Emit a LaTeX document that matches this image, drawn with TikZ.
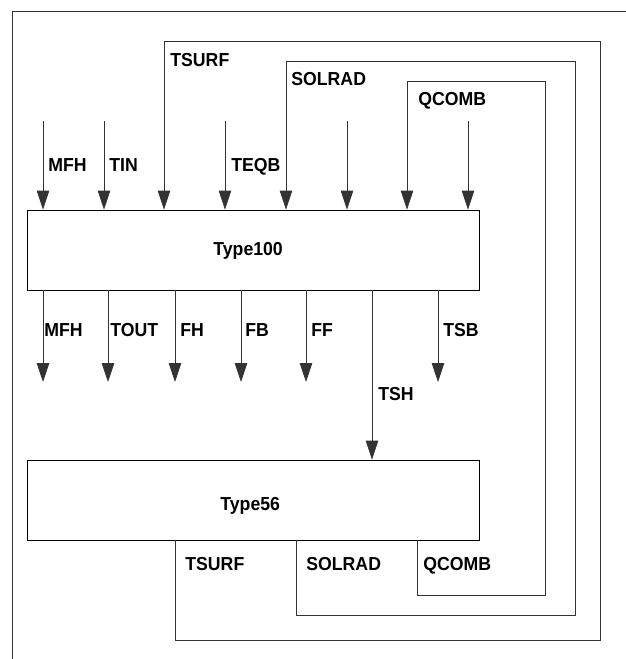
\documentclass[tikz,border=0pt]{standalone}
\usepackage{fontspec}
\setmainfont{Liberation Sans}[FakeStretch=0.94]
\usetikzlibrary{arrows.meta}
\begin{document}
\begin{tikzpicture}[x=1pt,y=-1pt,line width=0.8pt,
  wire/.style={draw=black!80},
  arr/.style={wire,-{Triangle[length=19pt,width=12.5pt]}},
  block/.style={draw=black,rectangle,minimum width=452pt,minimum height=80pt,inner sep=0pt},
  lab/.style={anchor=base west,inner sep=0pt,font=\bfseries\fontsize{18.8}{18.8}\selectfont}]
\useasboundingbox (0,0) rectangle (626,659);
% outer frame
\coordinate (fbl) at (12,659);
\coordinate (ftl) at (12,11);
\coordinate (ftr) at (626,11);
\draw[wire] (fbl) -- (ftl) -- (ftr);
% blocks
\node[block] (t100) at (253,250) {};
\node[block] (t56) at (253,500) {};
\node[lab] (t100lab) at (213,255.5) {Type100};
\node[lab] (t56lab) at (220,510.5) {Type56};
% plain inputs
\foreach \x/\n in {43/a,104/b,225/d,347/f,468/h} {
  \coordinate (in\n) at (\x,121);
  \draw[arr] (in\n) -- (in\n |- t100.north);
}
% outputs
\foreach \x/\n in {43/a,108/b,175/c,241/d,306/e,438/f} {
  \coordinate (out\n) at (\x,382);
  \draw[arr] (out\n |- t100.south) -- (out\n);
}
\coordinate (tsh) at (372,0);
\draw[arr] (tsh |- t100.south) -- (tsh |- t56.north);
% feedback loops
\coordinate (tsA) at (175,0);
\coordinate (tsB) at (600,640);
\coordinate (tsC) at (164,41);
\draw[arr] (tsA |- t56.south) |- (tsB) |- (tsC) -- (tsC |- t100.north);
\coordinate (soA) at (296,0);
\coordinate (soB) at (575,615);
\coordinate (soC) at (286,61);
\draw[arr] (soA |- t56.south) |- (soB) |- (soC) -- (soC |- t100.north);
\coordinate (qcA) at (417,0);
\coordinate (qcB) at (545,595);
\coordinate (qcC) at (407,81);
\draw[arr] (qcA |- t56.south) |- (qcB) |- (qcC) -- (qcC |- t100.north);
% labels
\node[lab] (l1) at (170,66.5) {TSURF};
\node[lab] (l2) at (291,85.5) {SOLRAD};
\node[lab] (l3) at (418,105.5) {QCOMB};
\node[lab] (l4) at (48,171.5) {MFH};
\node[lab] (l5) at (109,171.5) {TIN};
\node[lab] (l6) at (231,171.5) {TEQB};
\node[lab] (l7) at (44,336) {MFH};
\node[lab] (l8) at (110,336) {TOUT};
\node[lab] (l9) at (180,336.5) {FH};
\node[lab] (l10) at (245,336) {FB};
\node[lab] (l11) at (311,336) {FF};
\node[lab] (l12) at (443,336) {TSB};
\node[lab] (l13) at (378,400) {TSH};
\node[lab] (l14) at (185,570) {TSURF};
\node[lab] (l15) at (306,570) {SOLRAD};
\node[lab] (l16) at (423,570) {QCOMB};
\end{tikzpicture}
\end{document}
